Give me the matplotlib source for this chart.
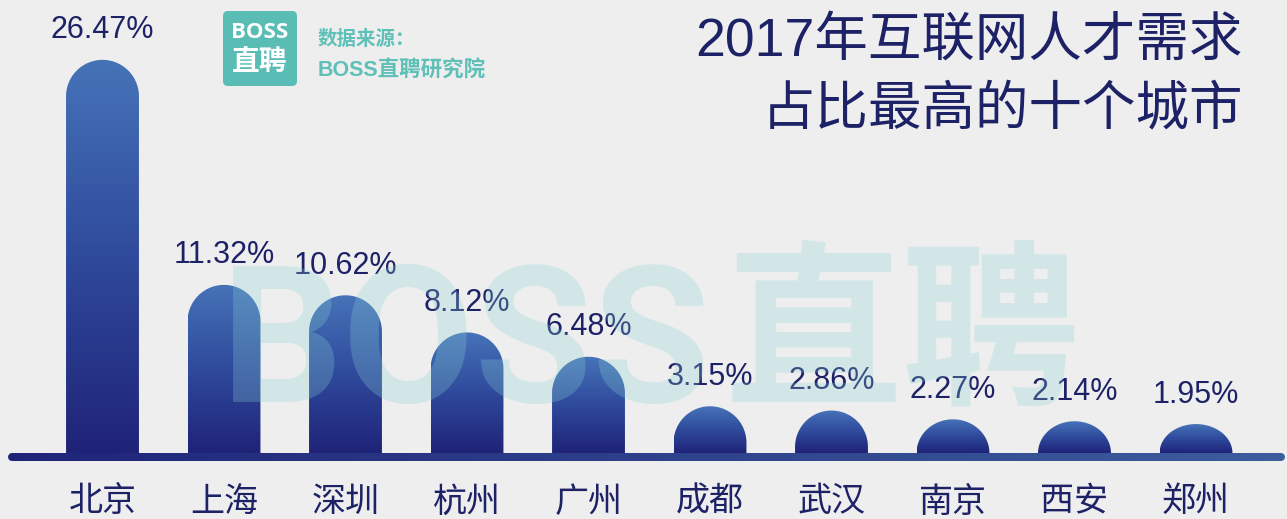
import numpy as np
import matplotlib
matplotlib.use('Agg')
import matplotlib.pyplot as plt
from matplotlib.patches import Polygon, FancyBboxPatch
from matplotlib.colors import LinearSegmentedColormap
from matplotlib.collections import LineCollection

# 数据
cities = ['北京', '上海', '深圳', '杭州', '广州', '成都', '武汉', '南京', '西安', '郑州']
shares = [26.47, 11.32, 10.62, 8.12, 6.48, 3.15, 2.86, 2.27, 2.14, 1.95]
title_lines = ['2017年互联网人才需求', '占比最高的十个城市']
source_lines = ['数据来源：', 'BOSS直聘研究院']

W, H = 1287, 519
bg = '#eeeeee'
navy = '#1d2166'
teal = '#59bdb5'
latin_cjk = ['Liberation Sans', 'Noto Sans CJK SC']

fig = plt.figure(figsize=(W / 100, H / 100), dpi=100, facecolor=bg)
ax = fig.add_axes([0, 0, 1, 1])
ax.set_facecolor(bg)
ax.axis('off')

xlim = (-0.8436, 9.749)
ylim = (-4.44, 30.5)
ax.set_xlim(*xlim)
ax.set_ylim(*ylim)

px_x = W / (xlim[1] - xlim[0])
px_y = H / (ylim[1] - ylim[0])
bw = 0.6
rx = bw / 2
ry = rx * px_x / px_y

bar_cmap = LinearSegmentedColormap.from_list('bar', ['#1f2378', '#2f4a9c', '#4673b8'])
grad = np.linspace(0, 1, 256).reshape(-1, 1)

for i, v in enumerate(shares):
    r = min(ry, v)
    t = np.linspace(np.pi, 0, 80)
    xs = np.concatenate([[i - rx], i + rx * np.cos(t), [i + rx]])
    ys = np.concatenate([[0], (v - r) + r * np.sin(t), [0]])
    poly = Polygon(np.column_stack([xs, ys]), closed=True, facecolor='none', edgecolor='none')
    ax.add_patch(poly)
    im = ax.imshow(grad, extent=[i - rx, i + rx, 0, v], origin='lower', cmap=bar_cmap,
                   aspect='auto', zorder=2, interpolation='bilinear')
    im.set_clip_path(poly)
    ax.annotate(f'{v:.2f}%', (i, v), xytext=(0, 15.5), textcoords='offset points',
                ha='center', va='baseline', fontsize=22, color=navy, family='Liberation Sans')
    ax.text(i, 17 / H, cities[i], transform=ax.get_xaxis_transform(), ha='center', va='center',
            fontsize=24.5, color=navy, family=['Noto Sans CJK SC'])

ax.set_xlim(*xlim)
ax.set_ylim(*ylim)

# 底部渐变横线
x0 = xlim[0] + 12 / px_x
x1 = xlim[1] - 6 / px_x
yl = -4 / px_y
xx = np.linspace(x0, x1, 300)
segs = [[(xx[k], yl), (xx[k + 1], yl)] for k in range(len(xx) - 1)]
line_cmap = LinearSegmentedColormap.from_list('line', ['#1f2479', '#3c5c9c'])
lc = LineCollection(segs, colors=line_cmap(np.linspace(0, 1, len(segs))),
                    linewidths=8 * 72 / 100, capstyle='round', zorder=3)
ax.add_collection(lc)

# 水印
wm = (138 / 255, 210 / 255, 214 / 255)
fig.text(221 / W, 1 - 402 / H, 'BOSS', ha='left', va='baseline', fontsize=138,
         weight='bold', family='Roboto', color=wm, alpha=0.27, zorder=5)
fig.text(902 / W, 1 - 338 / H, '直聘', ha='center', va='center', fontsize=128,
         weight='bold', family=['Noto Sans CJK SC'], color=wm, alpha=0.27, zorder=5)

# logo
logo = FancyBboxPatch((223 / W, 1 - 86 / H), 74 / W, 75 / H, transform=fig.transFigure,
                      boxstyle='round,pad=0,rounding_size=%f' % (5 / W),
                      mutation_aspect=W / H, facecolor=teal, edgecolor='none', zorder=6)
fig.add_artist(logo)
fig.text(260 / W, 1 - 33 / H, 'BOSS', ha='center', va='center', fontsize=16, weight='bold',
         family='Open Sans', color='white', zorder=7)
fig.text(260 / W, 1 - 62 / H, '直聘', ha='center', va='center', fontsize=20, weight='bold',
         family=['Noto Sans CJK SC'], color='white', zorder=7)

fig.text(318 / W, 1 - 39 / H, source_lines[0], ha='left', va='center', fontsize=14,
         weight='bold', family=latin_cjk, color='#5fc0b8', zorder=7)
fig.text(318 / W, 1 - 71 / H, source_lines[1], ha='left', va='center', fontsize=15.5,
         weight='bold', family=latin_cjk, color='#5fc0b8', zorder=7)

# 标题
fig.text(1243 / W, 1 - 42 / H, title_lines[0], ha='right', va='center', fontsize=38.5,
         family=latin_cjk, color=navy, zorder=7)
fig.text(1243 / W, 1 - 111 / H, title_lines[1], ha='right', va='center', fontsize=38.5,
         family=latin_cjk, color=navy, zorder=7)

fig.savefig('out.png', dpi=100, facecolor=bg)
